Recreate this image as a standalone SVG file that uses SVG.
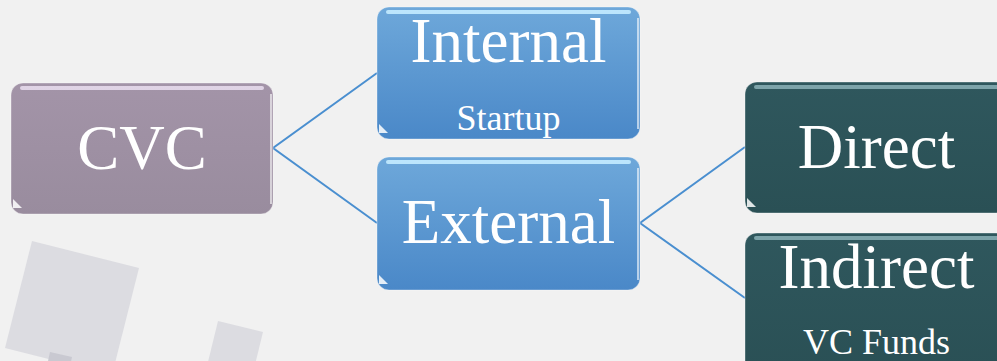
<svg xmlns="http://www.w3.org/2000/svg" width="997" height="361" viewBox="0 0 997 361">
  <defs>
    <linearGradient id="gPurple" x1="0" y1="0" x2="0" y2="1">
      <stop offset="0" stop-color="#a394a8"/>
      <stop offset="1" stop-color="#998c9e"/>
    </linearGradient>
    <linearGradient id="gBlue" x1="0" y1="0" x2="0" y2="1">
      <stop offset="0" stop-color="#6ea8da"/>
      <stop offset="1" stop-color="#4a88c8"/>
    </linearGradient>
    <linearGradient id="gTeal" x1="0" y1="0" x2="0" y2="1">
      <stop offset="0" stop-color="#2f575d"/>
      <stop offset="1" stop-color="#2a5055"/>
    </linearGradient>
  </defs>
  <style>
    .bg { fill: #f1f1f1; }
    .deco { fill: #dcdce1; }
    .deco2 { fill: #c9c9d1; }
    .link { fill: none; stroke: #4a8fd0; stroke-width: 2; }
    .box { stroke: #ffffff; stroke-opacity: 0.35; stroke-width: 1; }
    .shine { fill: none; stroke-width: 4; stroke-linecap: round; }
    .edge { fill: none; stroke: #ffffff; stroke-opacity: 0.6; stroke-width: 2; }
    .notch { fill: #ffffff; fill-opacity: 0.85; }
    .big { font-family: "Liberation Serif", "Times New Roman", serif; font-size: 63px; fill: #ffffff; text-anchor: middle; }
    .small { font-family: "Liberation Serif", "Times New Roman", serif; font-size: 36px; fill: #ffffff; text-anchor: middle; }
  </style>

  <rect class="bg" x="0" y="0" width="997" height="361"/>

  <!-- decorative background tiles -->
  <polygon class="deco" points="32,241 139,268 112,375 5,348"/>
  <polygon class="deco2" points="50,352 72,357 68,375 46,370"/>
  <polygon class="deco" points="218,321 263,332 252,377 207,366"/>

  <!-- connectors -->
  <g id="connectors">
    <path class="link" d="M377,73 L273,148 L377,223"/>
    <path class="link" d="M745,147 L640,223 L745,298"/>
  </g>

  <g id="node-cvc">
    <rect class="box" x="11" y="83" width="262" height="131" rx="12" fill="url(#gPurple)"/>
    <path class="shine" d="M22,88 L262,88" stroke="#efe3f5" stroke-opacity="0.8"/>
    <path class="edge" d="M271,94 L271,204"/>
    <path class="notch" d="M13,199 L22,208 L13,208 Z"/>
    <text class="big" x="142" y="169">CVC</text>
  </g>

  <g id="node-internal">
    <rect class="box" x="377" y="7" width="263" height="132" rx="12" fill="url(#gBlue)"/>
    <path class="shine" d="M388,12 L629,12" stroke="#c4ecff" stroke-opacity="0.9"/>
    <path class="edge" d="M638,18 L638,129"/>
    <path class="notch" d="M379,124 L388,133 L379,133 Z"/>
    <text class="big" x="508.5" y="62">Internal</text>
    <text class="small" x="508.5" y="130">Startup</text>
  </g>

  <g id="node-external">
    <rect class="box" x="377" y="157" width="263" height="133" rx="12" fill="url(#gBlue)"/>
    <path class="shine" d="M388,162 L629,162" stroke="#c4ecff" stroke-opacity="0.9"/>
    <path class="edge" d="M638,168 L638,280"/>
    <path class="notch" d="M379,275 L388,284 L379,284 Z"/>
    <text class="big" x="508.5" y="243">External</text>
  </g>

  <g id="node-direct">
    <rect class="box" x="745" y="82" width="263" height="131" rx="12" fill="url(#gTeal)"/>
    <path class="shine" d="M756,87 L997,87" stroke="#86adb2" stroke-opacity="0.9"/>
    <path class="notch" d="M747,198 L756,207 L747,207 Z"/>
    <text class="big" x="876.5" y="168">Direct</text>
  </g>

  <g id="node-indirect">
    <rect class="box" x="745" y="233" width="263" height="140" rx="12" fill="url(#gTeal)"/>
    <path class="shine" d="M756,238 L997,238" stroke="#86adb2" stroke-opacity="0.9"/>
    <text class="big" x="876.5" y="288">Indirect</text>
    <text class="small" x="876.5" y="354">VC Funds</text>
  </g>
</svg>
